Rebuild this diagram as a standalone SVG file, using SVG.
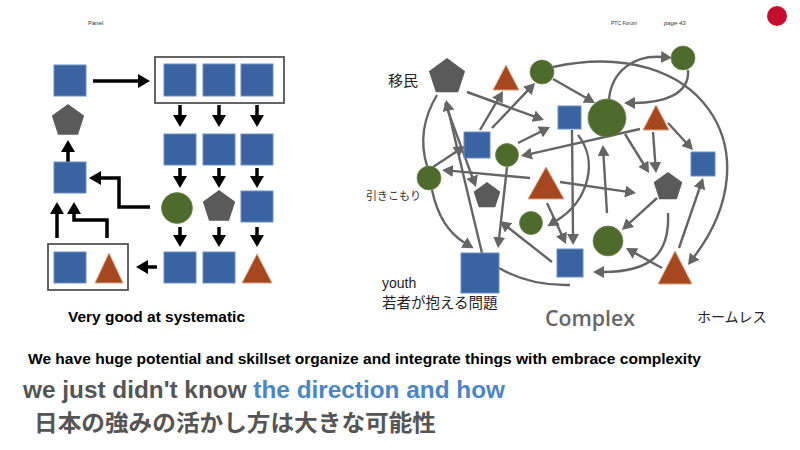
<svg xmlns="http://www.w3.org/2000/svg" xmlns:xlink="http://www.w3.org/1999/xlink" width="800" height="450" viewBox="0 0 800 450">
<style>
.sq{fill:#3a64a1;stroke:#6d8fc2;stroke-width:1}
.gc{fill:#4e6a2c;stroke:#6e8a4c;stroke-width:0.8}
.pg{fill:#5a5a5a}
.tr{fill:#a6481f;stroke:#dca585;stroke-width:1}
.box{fill:none;stroke:#555;stroke-width:1.8}
.bk{stroke:#000;stroke-width:3.5;fill:none;marker-end:url(#ab)}
.gy{stroke:#656565;stroke-width:2.4;fill:none}
.ga{marker-end:url(#ag)}
.sans{font-family:"Liberation Sans",Arial,sans-serif}
.jp{font-family:"Noto Sans CJK JP","Noto Sans",sans-serif}
</style>
<defs>
<marker id="ab" markerUnits="userSpaceOnUse" markerWidth="13" markerHeight="14" refX="1" refY="7" orient="auto">
<path d="M0,0 L12,7 L0,14 Z" fill="#000"/>
</marker>
<marker id="ag" markerUnits="userSpaceOnUse" markerWidth="12" markerHeight="12" refX="1" refY="6" orient="auto">
<path d="M0,0 L11,6 L0,12 Z" fill="#656565"/>
</marker>
<path id="pent" d="M0,-1 L0.951,-0.309 L0.588,0.809 L-0.588,0.809 L-0.951,-0.309 Z"/>
</defs>
<rect width="800" height="450" fill="#fff"/>

<!-- header -->
<g id="header">
<text class="sans" x="88" y="25" font-size="6" fill="#333">Panel</text>
<text class="sans" x="611" y="25" font-size="5" fill="#333">PTC Forum</text>
<text class="sans" x="664" y="25" font-size="6" font-style="italic" fill="#333">page 43</text>
<circle cx="777" cy="16" r="10" fill="#c40f2e"/>
</g>

<!-- LEFT DIAGRAM connectors -->
<g id="left-connectors">
<line class="bk" x1="93" y1="81" x2="139" y2="81"/>
<line class="bk" x1="180" y1="105" x2="180" y2="116"/>
<line class="bk" x1="219" y1="105" x2="219" y2="116"/>
<line class="bk" x1="257" y1="105" x2="257" y2="116"/>
<line class="bk" x1="180" y1="168" x2="180" y2="177"/>
<line class="bk" x1="219" y1="168" x2="219" y2="177"/>
<line class="bk" x1="257" y1="168" x2="257" y2="177"/>
<line class="bk" x1="180" y1="227" x2="180" y2="236"/>
<line class="bk" x1="219" y1="227" x2="219" y2="236"/>
<line class="bk" x1="257" y1="227" x2="257" y2="236"/>
<line class="bk" x1="157" y1="267" x2="147" y2="267"/>
<line class="bk" x1="68" y1="162" x2="68" y2="151"/>
<polyline class="bk" points="150,207 119,207 119,178 100,178"/>
<line class="bk" x1="57" y1="238" x2="57" y2="213"/>
<polyline class="bk" points="107,238 107,220 74,220 74,213"/>
</g>

<!-- LEFT DIAGRAM nodes -->
<g id="l-start"><rect class="sq" x="54" y="65" width="32" height="31"/></g>
<g id="l-topbox">
<rect class="box" x="155" y="57" width="129" height="46"/>
<rect class="sq" x="164" y="64" width="32" height="32"/>
<rect class="sq" x="203" y="64" width="32" height="32"/>
<rect class="sq" x="241" y="64" width="32" height="32"/>
</g>
<g id="l-row2">
<rect class="sq" x="164" y="134" width="32" height="31"/>
<rect class="sq" x="203" y="134" width="32" height="31"/>
<rect class="sq" x="241" y="134" width="32" height="31"/>
</g>
<g id="l-row3">
<circle class="gc" cx="177" cy="208" r="15.5"/>
<use href="#pent" class="pg" transform="translate(219,207) scale(17)"/>
<rect class="sq" x="241" y="191" width="32" height="31"/>
</g>
<g id="l-row4">
<rect class="sq" x="164" y="252" width="32" height="31"/>
<rect class="sq" x="203" y="252" width="32" height="31"/>
<polygon class="tr" points="257,254 272,283 242,283"/>
</g>
<g id="l-pentagon"><use href="#pent" class="pg" transform="translate(68,121) scale(17)"/></g>
<g id="l-mid"><rect class="sq" x="54" y="162" width="32" height="31"/></g>
<g id="l-bottombox">
<rect class="box" x="48" y="244" width="80" height="46"/>
<rect class="sq" x="54" y="252" width="32" height="31"/>
<polygon class="tr" points="109,253 123,283 95,283"/>
</g>
<text class="sans" x="68" y="322" font-size="15" font-weight="bold" fill="#000" textLength="177" lengthAdjust="spacingAndGlyphs">Very good at systematic</text>

<!-- RIGHT DIAGRAM connectors -->
<g id="right-connectors">
<line class="gy ga" x1="467" y1="92" x2="534.6" y2="116.6"/>
<line class="gy ga" x1="480" y1="130" x2="497.9" y2="99.6"/>
<line class="gy ga" x1="492" y1="128" x2="528.1" y2="90.2"/>
<line class="gy ga" x1="553" y1="79" x2="586.3" y2="98"/>
<path class="gy ga" d="M553,67 C700,35 775,150 694,257"/>
<path class="gy ga" d="M609,99 C612,70 635,55 662,57"/>
<path class="gy ga" d="M688,70 C690,95 662,103 634,103"/>
<line class="gy ga" x1="640" y1="129" x2="530.7" y2="153.8"/>
<line class="gy ga" x1="518" y1="143" x2="541.1" y2="131.5"/>
<line class="gy ga" x1="668" y1="123" x2="686.2" y2="142.7"/>
<line class="gy ga" x1="625" y1="134" x2="643.8" y2="164.5"/>
<line class="gy ga" x1="653" y1="132" x2="655.3" y2="163"/>
<line class="gy ga" x1="572" y1="130" x2="573" y2="235"/>
<path class="gy ga" d="M578,135 C598,160 590,200 556,221"/>
<line class="gy ga" x1="607" y1="213" x2="603.5" y2="155"/>
<line class="gy ga" x1="560" y1="182" x2="626.1" y2="191.6"/>
<line class="gy ga" x1="547" y1="203" x2="561.8" y2="234.9"/>
<line class="gy ga" x1="530" y1="178" x2="452" y2="170.9"/>
<line class="gy ga" x1="433" y1="167" x2="456.6" y2="151.5"/>
<line class="gy ga" x1="445" y1="103" x2="472.5" y2="177.6"/>
<path class="gy ga" d="M482,253 Q462,170 448.3,109.7"/>
<path class="gy" d="M437,95 Q416,130 427,166"/>
<path class="gy ga" d="M432,190 Q440,228 465,243"/>
<line class="gy ga" x1="507" y1="167" x2="499.1" y2="238.1"/>
<line class="gy ga" x1="552" y1="262" x2="507.8" y2="227.2"/>
<line class="gy ga" x1="657" y1="198" x2="629.4" y2="223.2"/>
<line class="gy ga" x1="662" y1="268" x2="634.7" y2="252.9"/>
<line class="gy ga" x1="679" y1="248" x2="699.8" y2="187.5"/>
<path class="gy ga" d="M668,213 C670,255 650,272 603,272"/>
<path class="gy" d="M499,268 Q530,286 570,285"/>
</g>

<!-- RIGHT DIAGRAM nodes -->
<g id="r-p1"><use href="#pent" class="pg" transform="translate(447,77) scale(19)"/></g>
<g id="r-t1"><polygon class="tr" points="506,65 519,90 493,90"/></g>
<g id="r-g1"><circle class="gc" cx="542" cy="72" r="12"/></g>
<g id="r-g2"><circle class="gc" cx="683" cy="58" r="12"/></g>
<g id="r-s1"><rect class="sq" x="558" y="106" width="23" height="23"/></g>
<g id="r-gb"><circle class="gc" cx="607" cy="118" r="19"/></g>
<g id="r-t2"><polygon class="tr" points="656,105 669,130 643,130"/></g>
<g id="r-s2"><rect class="sq" x="464" y="132" width="26" height="26"/></g>
<g id="r-g3"><circle class="gc" cx="507" cy="155" r="11.5"/></g>
<g id="r-s3"><rect class="sq" x="691" y="152" width="24" height="24"/></g>
<g id="r-g4"><circle class="gc" cx="429" cy="178" r="12"/></g>
<g id="r-t3"><polygon class="tr" points="546,167 564,199 528,199"/></g>
<g id="r-p2"><use href="#pent" class="pg" transform="translate(487,196) scale(14)"/></g>
<g id="r-p3"><use href="#pent" class="pg" transform="translate(668,187) scale(15)"/></g>
<g id="r-g5"><circle class="gc" cx="531" cy="223" r="11.5"/></g>
<g id="r-g6"><circle class="gc" cx="608" cy="241" r="15"/></g>
<g id="r-s4"><rect class="sq" x="461" y="253" width="38" height="40"/></g>
<g id="r-s5"><rect class="sq" x="557" y="249" width="26" height="28"/></g>
<g id="r-t4"><polygon class="tr" points="675,251 692,284 658,284"/></g>

<!-- right labels -->
<text class="jp" x="388" y="86" font-size="15" fill="#222">移民</text>
<text class="jp" x="366" y="200" font-size="11" fill="#333">引きこもり</text>
<text class="sans" x="382" y="288" font-size="14" fill="#222">youth</text>
<text class="jp" x="382" y="308" font-size="14.5" fill="#222">若者が抱える問題</text>
<text x="545" y="326" font-family="'Open Sans','Noto Sans',sans-serif" font-size="22" font-weight="600" fill="#666" textLength="90" lengthAdjust="spacingAndGlyphs">Complex</text>
<text class="jp" x="697" y="322" font-size="14" fill="#222">ホームレス</text>

<!-- bottom texts -->
<text class="sans" x="28" y="364" font-size="15" font-weight="bold" fill="#000" textLength="673" lengthAdjust="spacingAndGlyphs">We have huge potential and skillset organize and integrate things with embrace complexity</text>
<text class="sans" x="23" y="398" font-size="24" font-weight="bold" fill="#555" textLength="482" lengthAdjust="spacingAndGlyphs">we just didn't know <tspan fill="#4a86c6">the direction and how</tspan></text>
<text class="jp" x="34" y="431" font-size="23" font-weight="bold" fill="#555" textLength="402" lengthAdjust="spacingAndGlyphs">日本の強みの活かし方は大きな可能性</text>
</svg>
